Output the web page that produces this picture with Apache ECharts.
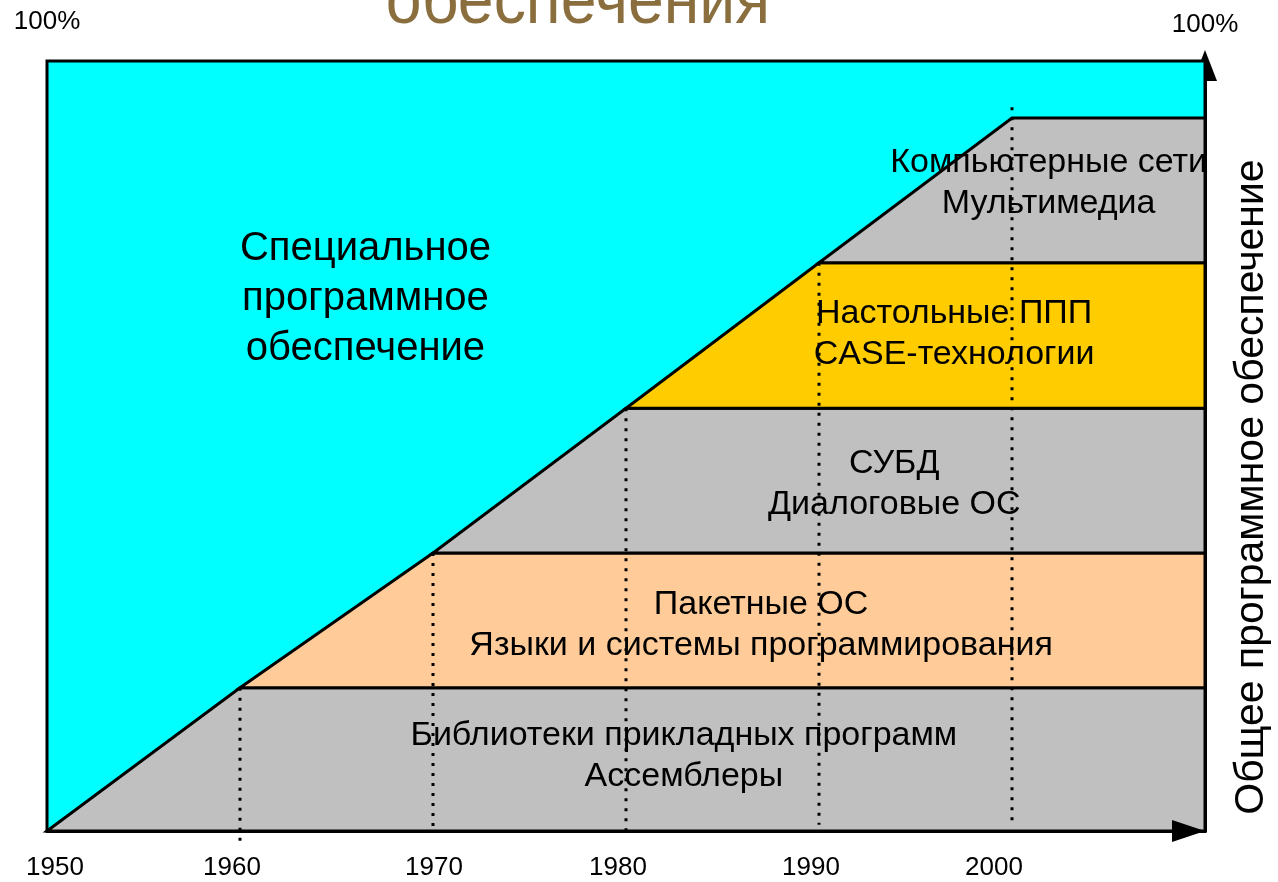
<!DOCTYPE html>
<html>
<head>
<meta charset="utf-8">
<script src="https://cdn.jsdelivr.net/npm/echarts@6/dist/echarts.min.js"></script>
<style>
html,body{margin:0;padding:0;background:#fff;}
#chart{width:1278px;height:882px;}
</style>
</head>
<body>
<div id="chart"></div>
<script>
// ---- data ----
const xTickYears = [1950, 1960, 1970, 1980, 1990, 2000];
const bandStartYears = [1950, 1960, 1970, 1980, 1990];
const bandEndYears = [1960, 1970, 1980, 1990, 2000];
const bandBottoms = [0, 18.6, 36.1, 54.9, 73.8];
const bandTops = [18.6, 36.1, 54.9, 73.8, 92.6];
const bandLabels = [
  'Библиотеки прикладных программ\nАссемблеры',
  'Пакетные ОС\nЯзыки и системы программирования',
  'СУБД\nДиалоговые ОС',
  'Настольные ППП\nCASE-технологии',
  'Компьютерные сети\nМультимедиа'
];
const bandLabelYears = [1983.0, 1987.0, 1993.9, 1997.0, 2001.9];
const bandLabelValues = [9.7, 26.7, 45.1, 64.5, 84.2];
const specialLabel = 'Специальное\nпрограммное\nобеспечение';
const specialLabelYear = 1966.5;
const specialLabelValue = 69.1;
const dotYears = [1960, 1970, 1980, 1990, 2000];
const dotTops = [18.6, 36.1, 54.9, 73.8, 94.0];
const dotBottoms = [-1.3, 0, 0, 0.8, 1.4];
const titleText = 'обеспечения';
const rightTitle = 'Общее программное обеспечение';
const topLabel = '100%';

// ---- styles ----
const bandColors = ['#C0C0C0', '#FFCC99', '#C0C0C0', '#FFCC00', '#C0C0C0'];
const tickLabelShiftPx = [8, -8, 1, -8, -8, -18]; // hand placement of year labels in the original
const X_MIN = 1950, X_MAX = 2010;
const FONT = '"Liberation Sans", Arial, sans-serif';

const chart = echarts.init(document.getElementById('chart'));

const bandData = bandStartYears.map((s, i) => [s, bandEndYears[i], bandBottoms[i], bandTops[i], i]);
const dotData = dotYears.map((y, i) => [y, dotTops[i], dotBottoms[i]]);
const labelData = bandLabels.map((t, i) => [bandLabelYears[i], bandLabelValues[i], i]);

const rich = {};
tickLabelShiftPx.forEach((d, i) => {
  rich['s' + i] = {fontSize: 26, fontFamily: FONT, color: '#000',
    padding: d >= 0 ? [0, 0, 0, 2 * d] : [0, -2 * d, 0, 0]};
});

chart.setOption({
  animation: false,
  grid: {left: 47, right: 73, top: 61, bottom: 51, containLabel: false},
  xAxis: {
    type: 'value', min: X_MIN, max: X_MAX, interval: 10, z: 10,
    axisLine: {show: true, lineStyle: {color: '#000', width: 3},
      symbol: ['none', 'triangle'], symbolSize: [22, 33], symbolOffset: [0, -16.5]},
    axisTick: {show: false},
    splitLine: {show: false},
    axisLabel: {color: '#000', fontSize: 26, fontFamily: FONT, margin: 24, rich: rich,
      formatter: v => {
        const i = xTickYears.indexOf(v);
        return i >= 0 ? '{s' + i + '|' + v + '}' : '';
      }}
  },
  yAxis: {
    type: 'value', min: 0, max: 100, position: 'right', z: 0,
    axisLine: {show: true, onZero: false, lineStyle: {color: '#000', width: 3},
      symbol: ['none', 'triangle'], symbolSize: [24, 31], symbolOffset: [0, -4.5]},
    axisTick: {show: false}, axisLabel: {show: false}, splitLine: {show: false}
  },
  series: [
    {
      type: 'custom', z: 1, clip: false,
      data: [[X_MIN, X_MAX, 0, 100]],
      renderItem: (params, api) => {
        const p0 = api.coord([api.value(0), api.value(2)]);
        const p1 = api.coord([api.value(1), api.value(3)]);
        return {type: 'rect', shape: {x: p0[0], y: p1[1], width: p1[0] - p0[0], height: p0[1] - p1[1]},
          style: {fill: '#00FFFF', stroke: '#000', lineWidth: 3}};
      }
    },
    {
      type: 'custom', z: 2, clip: false,
      data: bandData,
      renderItem: (params, api) => {
        const a = api.coord([api.value(0), api.value(2)]);
        const b = api.coord([X_MAX, api.value(2)]);
        const c = api.coord([X_MAX, api.value(3)]);
        const d = api.coord([api.value(1), api.value(3)]);
        return {type: 'polygon', shape: {points: [a, b, c, d]},
          style: {fill: bandColors[api.value(4)], stroke: '#000', lineWidth: 3, lineJoin: 'miter'}};
      }
    },
    {
      type: 'custom', z: 3, clip: false,
      data: dotData,
      renderItem: (params, api) => {
        const a = api.coord([api.value(0), api.value(1)]);
        const b = api.coord([api.value(0), api.value(2)]);
        return {type: 'line', shape: {x1: a[0], y1: a[1], x2: b[0], y2: b[1]},
          style: {stroke: '#000', lineWidth: 3, lineDash: [3, 7]}};
      }
    },
    {
      type: 'custom', z: 4, clip: false,
      data: labelData,
      renderItem: (params, api) => {
        const p = api.coord([api.value(0), api.value(1)]);
        return {type: 'text', x: p[0], y: p[1],
          style: {text: bandLabels[api.value(2)], fill: '#000', font: '34px ' + FONT,
            align: 'center', verticalAlign: 'middle', lineHeight: 41}};
      }
    },
    {
      type: 'custom', z: 4, clip: false,
      data: [[specialLabelYear, specialLabelValue]],
      renderItem: (params, api) => {
        const p = api.coord([api.value(0), api.value(1)]);
        return {type: 'text', x: p[0], y: p[1],
          style: {text: specialLabel, fill: '#000', font: '40px ' + FONT,
            align: 'center', verticalAlign: 'middle', lineHeight: 50}};
      }
    }
  ],
  graphic: [
    {type: 'text', x: 578, y: 4, z: 10, scaleX: 0.92,
      style: {text: titleText, fill: '#8B6E3E', font: '70px ' + FONT,
        align: 'center', verticalAlign: 'middle',
        shadowColor: 'rgba(0,0,0,0.35)', shadowOffsetX: 2, shadowOffsetY: 2, shadowBlur: 2}},
    {type: 'text', x: 47, y: 22, z: 10,
      style: {text: topLabel, fill: '#000', font: '26px ' + FONT, align: 'center', verticalAlign: 'middle'}},
    {type: 'text', x: 1205, y: 25, z: 10,
      style: {text: topLabel, fill: '#000', font: '26px ' + FONT, align: 'center', verticalAlign: 'middle'}},
    {type: 'text', x: 1252, y: 487, rotation: Math.PI / 2, z: 10,
      style: {text: rightTitle, fill: '#000', font: '41px ' + FONT, align: 'center', verticalAlign: 'middle'}}
  ]
});
</script>
</body>
</html>
